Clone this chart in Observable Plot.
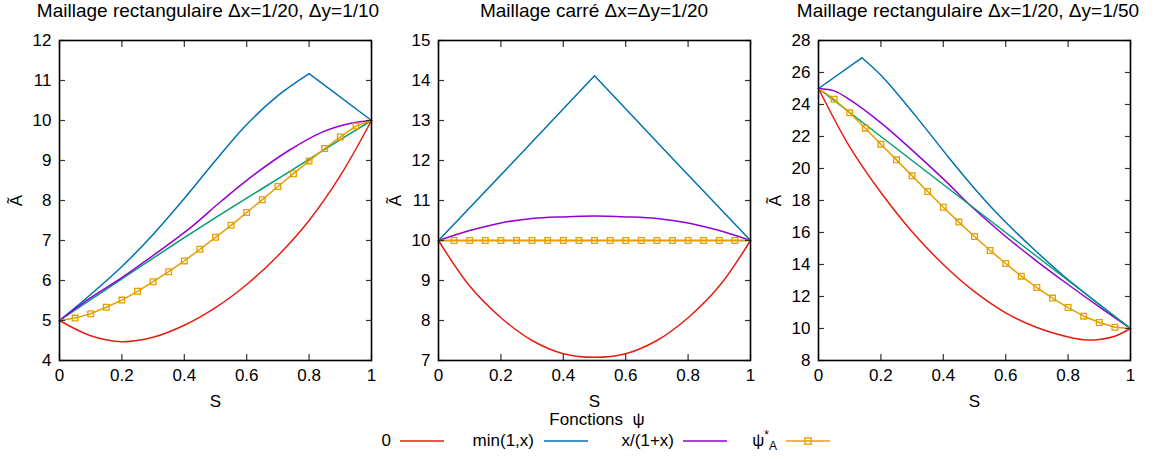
<!DOCTYPE html>
<html><head><meta charset="utf-8">
<script src="https://cdn.jsdelivr.net/npm/d3@7"></script>
<script src="https://cdn.jsdelivr.net/npm/@observablehq/plot@0.6"></script>
<style>
body{margin:0;background:#fff;font-family:"Liberation Sans",Arial,sans-serif;color:#000;}
#wrap{position:relative;width:1155px;height:459px;overflow:hidden;background:#fff;}
.panel{position:absolute;top:0;width:385px;height:410px;}
.title{position:absolute;top:0;font-size:19px;line-height:22px;white-space:nowrap;transform:translateX(-50%);}
.lg{position:absolute;font-size:17px;line-height:20px;white-space:nowrap;}
.lgt{transform:translateX(-100%);}
sup,sub{font-size:12px;line-height:0;}
</style></head>
<body><div id="wrap"></div>
<script>
// ---------- data ----------
const titles = ["Maillage rectangulaire \u0394x=1/20, \u0394y=1/10", "Maillage carr\u00e9 \u0394x=\u0394y=1/20", "Maillage rectangulaire \u0394x=1/20, \u0394y=1/50"];
const titleCenters = [208, 594, 968];
const xTicks = [0, 0.2, 0.4, 0.6, 0.8, 1];
const yTicks1 = [4, 5, 6, 7, 8, 9, 10, 11, 12];
const yTicks2 = [7, 8, 9, 10, 11, 12, 13, 14, 15];
const yTicks3 = [8, 10, 12, 14, 16, 18, 20, 22, 24, 26, 28];
const legendNames = ["0", "min(1,x)", "x/(1+x)", "\u03c8*A"];
const sGrid = [0, 0.1, 0.2, 0.3, 0.4, 0.5, 0.6, 0.7, 0.8, 0.9, 1];
const sMark = [0, 0.05, 0.1, 0.15, 0.2, 0.25, 0.3, 0.35, 0.4, 0.45, 0.5, 0.55, 0.6, 0.65, 0.7, 0.75, 0.8, 0.85, 0.9, 0.95, 1];

// panel 1
const red1 = [5, 4.62, 4.47, 4.58, 4.88, 5.32, 5.9, 6.62, 7.5, 8.62, 10];
const blue1aS = [0, 0.1, 0.2, 0.3, 0.4, 0.5, 0.6, 0.7, 0.8];
const blue1aV = [5, 5.65, 6.35, 7.15, 8.05, 9.0, 9.9, 10.62, 11.17];
const blue1bS = [0.8, 1];
const blue1bV = [11.17, 10];
const purple1S = [0, 0.094, 0.201, 0.308, 0.415, 0.521, 0.628, 0.735, 0.842, 0.927, 1];
const purple1 = [5, 5.54, 6.08, 6.67, 7.29, 8.0, 8.67, 9.25, 9.71, 9.92, 10];
const green1 = [5, 5.52, 6.04, 6.56, 7.07, 7.57, 8.06, 8.54, 9.03, 9.52, 10];
const orange1 = [5, 5.06, 5.17, 5.33, 5.51, 5.73, 5.97, 6.22, 6.49, 6.78, 7.08, 7.38, 7.70, 8.02, 8.35, 8.67, 8.99, 9.30, 9.59, 9.86, 10];

// panel 2
const red2 = [10, 8.86, 8.07, 7.5, 7.17, 7.08, 7.17, 7.5, 8.07, 8.86, 10];
const blue2S = [0, 0.25, 0.5, 0.75, 1];
const blue2V = [10, 12.05, 14.12, 12.05, 10];
const purple2 = [10, 10.25, 10.44, 10.55, 10.59, 10.61, 10.59, 10.55, 10.44, 10.25, 10];
const green2 = [10, 10, 10, 10, 10, 10, 10, 10, 10, 10, 10];
const orange2 = [10, 10, 10, 10, 10, 10, 10, 10, 10, 10, 10, 10, 10, 10, 10, 10, 10, 10, 10, 10, 10];

// panel 3
const red3S = [0, 0.1, 0.2, 0.3, 0.4, 0.5, 0.6, 0.7, 0.8, 0.85, 0.9, 0.95, 1];
const red3 = [25, 21.35, 18.5, 16.05, 14.0, 12.3, 10.98, 10.06, 9.47, 9.3, 9.32, 9.52, 10];
const blue3aS = [0, 0.139];
const blue3aV = [25, 26.92];
const blue3bS = [0.139, 0.204, 0.311, 0.418, 0.493, 0.579, 0.686, 0.788, 0.9, 1];
const blue3bV = [26.92, 25.75, 23.29, 20.67, 18.91, 17.06, 15.03, 13.25, 11.51, 10];
const purple3S = [0, 0.05, 0.1, 0.2, 0.3, 0.4, 0.5, 0.6, 0.7, 0.8, 0.9, 1];
const purple3 = [25, 24.85, 24.3, 22.85, 21.15, 19.35, 17.45, 15.75, 14.2, 12.75, 11.35, 10];
const green3 = [25, 23.5, 22, 20.5, 19, 17.5, 16, 14.5, 13, 11.5, 10];
const orange3 = [25, 24.33, 23.48, 22.52, 21.52, 20.54, 19.54, 18.56, 17.58, 16.65, 15.75, 14.875, 14.06, 13.27, 12.56, 11.90, 11.31, 10.77, 10.375, 10.08, 10];

// ---------- style ----------
const C = {red: "#e51e10", blue: "#0072b2", purple: "#9400d3", green: "#009e73", orange: "#e69f00"};
const zip = (S, V) => S.map((s, i) => ({s, v: V[i]}));

const panels = [
  {yTicks: yTicks1, curves: [
    {d: zip(sGrid, green1), c: C.green, curve: "catmull-rom"},
    {d: zip(sGrid, red1), c: C.red, curve: "catmull-rom"},
    {d: zip(blue1aS, blue1aV), c: C.blue, curve: "catmull-rom"},
    {d: zip(blue1bS, blue1bV), c: C.blue, curve: "linear"},
    {d: zip(purple1S, purple1), c: C.purple, curve: "catmull-rom"}
  ], orange: zip(sMark, orange1)},
  {yTicks: yTicks2, curves: [
    {d: zip(sGrid, red2), c: C.red, curve: "catmull-rom"},
    {d: zip(blue2S, blue2V), c: C.blue, curve: "linear"},
    {d: zip(sGrid, purple2), c: C.purple, curve: "catmull-rom"},
    {d: zip(sGrid, green2), c: C.green, curve: "linear"}
  ], orange: zip(sMark, orange2)},
  {yTicks: yTicks3, curves: [
    {d: zip(red3S, red3), c: C.red, curve: "catmull-rom"},
    {d: zip(blue3aS, blue3aV), c: C.blue, curve: "linear"},
    {d: zip(blue3bS, blue3bV), c: C.blue, curve: "catmull-rom"},
    {d: zip(purple3S, purple3), c: C.purple, curve: "catmull-rom"},
    {d: zip(sGrid, green3), c: C.green, curve: "catmull-rom"}
  ], orange: zip(sMark, orange3)}
];

const wrap = document.getElementById("wrap");
const lefts = [0, 379, 759];
const font = "Liberation Sans, Arial, sans-serif";

panels.forEach((p, i) => {
  const div = document.createElement("div");
  div.className = "panel";
  div.style.left = lefts[i] + "px";
  const yd = [p.yTicks[0], p.yTicks[p.yTicks.length - 1]];
  const marks = [];
  for (const c of p.curves) marks.push(Plot.line(c.d, {x: "s", y: "v", stroke: c.c, strokeWidth: 1.5, curve: c.curve}));
  marks.push(Plot.line(p.orange, {x: "s", y: "v", stroke: C.orange, strokeWidth: 1.5}));
  marks.push(Plot.dot(p.orange.slice(1, -1), {x: "s", y: "v", symbol: "square", r: 3.2, stroke: C.orange, fill: "none", strokeWidth: 1.3}));
  // tick marks (inward, mirrored)
  marks.push(Plot.axisX({anchor: "bottom", ticks: xTicks, tickSize: -6, fill: "none", label: null, stroke: "#333", strokeWidth: 1.2}));
  marks.push(Plot.axisX({anchor: "top", ticks: xTicks, tickSize: -6, fill: "none", label: null, stroke: "#333", strokeWidth: 1.2}));
  marks.push(Plot.axisY({anchor: "left", ticks: p.yTicks, tickSize: -6, fill: "none", label: null, stroke: "#333", strokeWidth: 1.2}));
  marks.push(Plot.axisY({anchor: "right", ticks: p.yTicks, tickSize: -6, fill: "none", label: null, stroke: "#333", strokeWidth: 1.2}));
  // tick labels + axis labels
  marks.push(Plot.axisX({anchor: "bottom", ticks: xTicks, tickSize: 0, tickPadding: 8, tickFormat: d => String(d), label: "S", labelAnchor: "center", labelOffset: 46, labelArrow: false, fill: "#000"}));
  marks.push(Plot.axisY({anchor: "left", ticks: p.yTicks, tickSize: 0, tickPadding: 8, tickFormat: d => String(d), label: "\u00c3", labelAnchor: "center", labelOffset: 50, labelArrow: false, fill: "#000"}));
  marks.push(Plot.frame({stroke: "#000", strokeWidth: 1.6}));
  const svg = Plot.plot({
    width: 385, height: 410,
    marginLeft: 59, marginRight: 14, marginTop: 40, marginBottom: 50,
    style: {fontFamily: font, fontSize: "17px", color: "#000", background: "transparent", overflow: "visible"},
    x: {domain: [0, 1]},
    y: {domain: yd},
    marks
  });
  div.appendChild(svg);
  wrap.appendChild(div);
  const t = document.createElement("div");
  t.className = "title";
  t.style.left = titleCenters[i] + "px";
  t.textContent = titles[i];
  wrap.appendChild(t);
});

// ---------- legend ----------
const lgTitle = document.createElement("div");
lgTitle.className = "lg";
lgTitle.style.left = "597px"; lgTitle.style.top = "410px"; lgTitle.style.transform = "translateX(-50%)";
lgTitle.textContent = "Fonctions  \u03c8";
lgTitle.style.whiteSpace = "pre";
wrap.appendChild(lgTitle);

const lgColors = [C.red, C.blue, C.purple, C.orange];
const lgTextRight = [391, 534, 674, 777];
const lgLineLeft = [400, 544, 683, 786];
legendNames.forEach((name, i) => {
  const t = document.createElement("div");
  t.className = "lg lgt";
  t.style.left = lgTextRight[i] + "px"; t.style.top = "431px";
  if (i === 3) t.innerHTML = "\u03c8<sup>*</sup><sub>A</sub>"; else t.textContent = name;
  wrap.appendChild(t);
  const ns = "http://www.w3.org/2000/svg";
  const s = document.createElementNS(ns, "svg");
  s.setAttribute("width", 46); s.setAttribute("height", 12);
  s.style.position = "absolute"; s.style.left = lgLineLeft[i] + "px"; s.style.top = "435px";
  const l = document.createElementNS(ns, "line");
  l.setAttribute("x1", 0); l.setAttribute("x2", 44); l.setAttribute("y1", 6); l.setAttribute("y2", 6);
  l.setAttribute("stroke", lgColors[i]); l.setAttribute("stroke-width", 1.5);
  s.appendChild(l);
  if (i === 3) {
    const r = document.createElementNS(ns, "rect");
    r.setAttribute("x", 18.8); r.setAttribute("y", 2.8); r.setAttribute("width", 6.4); r.setAttribute("height", 6.4);
    r.setAttribute("fill", "none"); r.setAttribute("stroke", lgColors[i]); r.setAttribute("stroke-width", 1.3);
    s.appendChild(r);
  }
  wrap.appendChild(s);
});
</script>
</body></html>
